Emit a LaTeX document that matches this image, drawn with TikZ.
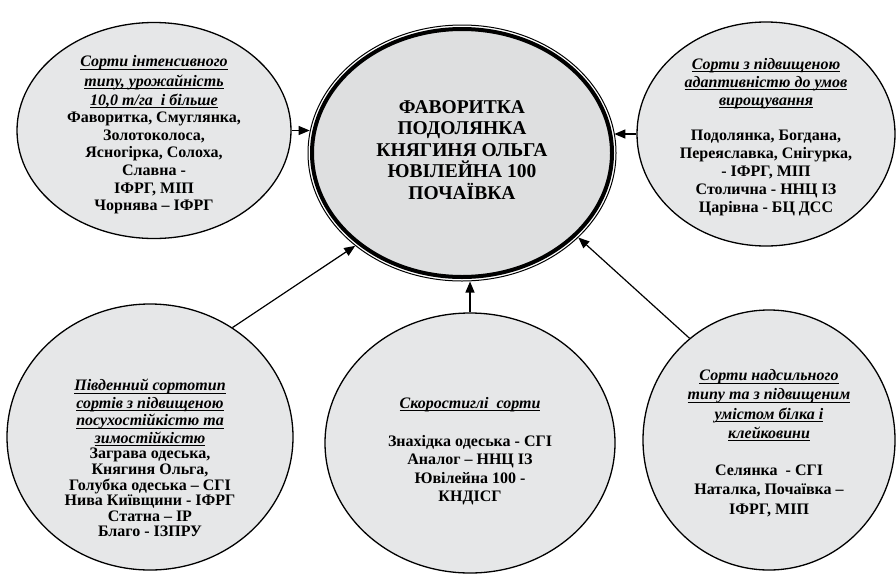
\documentclass[tikz,border=0pt]{standalone}
\usepackage{fontspec}
\setmainfont{Liberation Serif}
\usetikzlibrary{shapes.geometric,arrows.meta}
\definecolor{ellfill}{HTML}{E6E7E8}
\definecolor{cfill}{HTML}{DEDFE0}
\newcommand\hd[1]{\setbox0\hbox{\bfseries\itshape #1}\rlap{\rule[-3pt]{\wd0}{0.9pt}}\box0}
\tikzset{
  ell/.style={ellipse, draw=black, line width=1.3pt, fill=ellfill, inner sep=0pt},
  txt/.style={align=center, inner sep=0pt},
  arr/.style={line width=1.2pt, -{Triangle[length=11pt,width=9pt]}},
}
\begin{document}
\begin{tikzpicture}[x=1pt,y=-1pt]
\useasboundingbox (0,0) rectangle (896,573);
% ellipses
\node[ell, minimum width=274pt, minimum height=216pt] (tl) at (154,130.5) {};
\node[ell, minimum width=258pt, minimum height=224pt] (tr) at (766,134) {};
\node[ell, minimum width=286pt, minimum height=266pt] (bl) at (150,437) {};
\node[ell, minimum width=290pt, minimum height=260pt] (bm) at (470,443) {};
\node[ell, minimum width=252pt, minimum height=260pt] (br) at (769,440) {};
\node[ellipse, draw=black, line width=1pt, fill=white, inner sep=0pt, minimum width=308pt, minimum height=256pt] (c) at (462,153) {};
\draw[line width=4pt, fill=cfill] (c.center) ellipse [x radius=150pt, y radius=124pt];
% texts
\node[txt, font=\fontsize{16}{17.6}\selectfont\bfseries] (tlt) at (154,135)
  {\hd{Сорти інтенсивного}\\[1.5pt]\hd{типу, урожайність}\\[1.5pt]\hd{10,0 т/га\ \ і більше}\\Фаворитка, Смуглянка,\\Золотоколоса,\\Ясногірка, Солоха,\\Славна -\\ІФРГ, МІП\\Чорнява – ІФРГ};
\node[txt, font=\fontsize{16}{18}\selectfont\bfseries] (trt) at (766,137)
  {\hd{Сорти з підвищеною}\\\hd{адаптивністю до умов}\\\hd{вирощування}\\[17pt]Подолянка, Богдана,\\Переяславка, Снігурка,\\- ІФРГ, МІП\\Столична - ННЦ ІЗ\\Царівна - БЦ ДСС};
\node[txt, font=\fontsize{19.5}{21.5}\selectfont\bfseries] (ct) at (462,150)
  {ФАВОРИТКА\\ПОДОЛЯНКА\\КНЯГИНЯ ОЛЬГА\\ЮВІЛЕЙНА 100\\ПОЧАЇВКА};
\node[txt, font=\fontsize{16}{15.6}\selectfont\bfseries] (blt) at (150,458)
  {\hd{Південний сортотип}\\[2pt]\hd{сортів з підвищеною}\\[2pt]\hd{посухостійкістю та}\\[2pt]\hd{зимостійкістю}\\Заграва одеська,\\Княгиня Ольга,\\Голубка одеська – СГІ\\Нива Київщини - ІФРГ\\Статна – ІР\\Благо - ІЗПРУ};
\node[txt, font=\fontsize{16}{18.3}\selectfont\bfseries] (bmt) at (470,451)
  {\hd{Скоростиглі\ \ сорти}\\[20pt]Знахідка одеська - СГІ\\Аналог – ННЦ ІЗ\\Ювілейна 100 -\\КНДІСГ};
\node[txt, font=\fontsize{16}{19.3}\selectfont\bfseries] (brt) at (769,443)
  {\hd{Сорти надсильного}\\\hd{типу та з підвищеним}\\\hd{умістом білка і}\\\hd{клейковини}\\[18pt]Селянка\ \ - СГІ\\Наталка, Почаївка –\\ІФРГ, МІП};
% connectors
\draw[arr] (tl.east) -- (c.172 |- tl.east);
\draw[arr] (tr.west) -- (c.8 |- tr.west);
\draw[arr] (bl.53) -- (c.221);
\draw[arr] (br.128) -- (c.324);
\draw[arr] (bm.north) -- (bm.north |- c.south);
\end{tikzpicture}
\end{document}
